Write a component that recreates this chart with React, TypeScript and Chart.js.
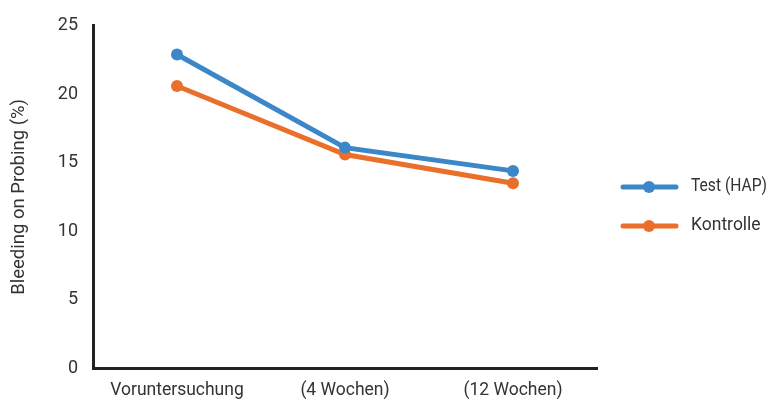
import React, { useEffect, useRef } from "react";
import { Chart, registerables } from "chart.js";

Chart.register(...registerables);

const categories = ["Voruntersuchung", "(4 Wochen)", "(12 Wochen)"];
const testValues = [22.9, 16.1, 14.4];
const kontrolleValues = [20.6, 15.6, 13.5];
const seriesNames = ["Test (HAP)", "Kontrolle"];
const seriesColors = ["#3B87C7", "#EA6F2A"];
const yTicks = [0, 5, 10, 15, 20, 25];

const FONT = "'Roboto', 'Liberation Sans', sans-serif";
const TEXT = "#333333";

const legendPlugin = {
  id: "customLegend",
  afterDraw(chart: any) {
    const ctx = chart.ctx;
    const ys = [187, 226];
    chart.data.datasets.forEach((ds: any, i: number) => {
      const y = ys[i];
      ctx.save();
      ctx.strokeStyle = ds.borderColor;
      ctx.lineWidth = 5;
      ctx.lineCap = "round";
      ctx.beginPath();
      ctx.moveTo(623, y);
      ctx.lineTo(676, y);
      ctx.stroke();
      ctx.fillStyle = ds.borderColor;
      ctx.beginPath();
      ctx.arc(649, y, 6, 0, Math.PI * 2);
      ctx.fill();
      ctx.fillStyle = TEXT;
      ctx.font = `17.5px ${FONT}`;
      ctx.textBaseline = "middle";
      ctx.textAlign = "left";
      ctx.fillText(ds.label, 691, y, 76);
      ctx.restore();
    });
  },
};

export default function App() {
  const ref = useRef<HTMLCanvasElement>(null);
  useEffect(() => {
    document.body.style.margin = "0";
    const chart = new Chart(ref.current!, {
      type: "line",
      data: {
        labels: categories,
        datasets: [
          {
            label: seriesNames[0],
            data: testValues,
            borderColor: seriesColors[0],
            backgroundColor: seriesColors[0],
            borderWidth: 5,
            pointRadius: 6,
            pointBackgroundColor: seriesColors[0],
            pointBorderWidth: 0,
          },
          {
            label: seriesNames[1],
            data: kontrolleValues,
            borderColor: seriesColors[1],
            backgroundColor: seriesColors[1],
            borderWidth: 5,
            pointRadius: 6,
            pointBackgroundColor: seriesColors[1],
            pointBorderWidth: 0,
          },
        ],
      },
      options: {
        animation: false,
        responsive: false,
        layout: { padding: { left: 0, right: 176, top: 25, bottom: 0 } },
        plugins: { legend: { display: false }, tooltip: { enabled: false } },
        scales: {
          x: {
            offset: true,
            grid: { display: false, drawTicks: false },
            border: { color: "#222222", width: 3 },
            ticks: { color: TEXT, font: { family: FONT, size: 17.5 }, padding: 12, maxRotation: 0 },
            afterFit: (s: any) => { s.height = 35; },
          },
          y: {
            min: 0,
            max: 25,
            afterBuildTicks: (s: any) => { s.ticks = yTicks.map((v) => ({ value: v })); },
            grid: { display: false, drawTicks: false },
            border: { color: "#222222", width: 3 },
            ticks: { color: TEXT, font: { family: FONT, size: 18 }, padding: 15 },
            title: {
              display: true,
              text: "Bleeding on Probing (%)",
              color: TEXT,
              font: { family: FONT, size: 18.5 },
              padding: { top: 8, bottom: 0 },
            },
            afterFit: (s: any) => { s.width = 93; },
          },
        },
      },
      plugins: [legendPlugin],
    });
    return () => chart.destroy();
  }, []);
  return (
    <div style={{ position: "fixed", left: 0, top: 0, width: 773, height: 403, background: "#fff" }}>
      <canvas ref={ref} width={773} height={403} style={{ width: 773, height: 403 }} />
    </div>
  );
}
